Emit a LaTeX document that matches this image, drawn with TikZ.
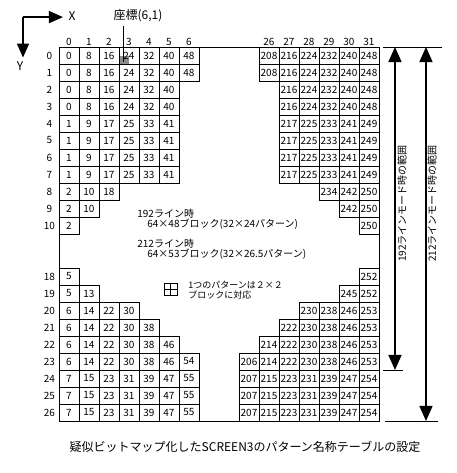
\documentclass[tikz,border=0pt]{standalone}
\usepackage{fontspec}
\setmainfont{Noto Sans CJK JP}
\usetikzlibrary{arrows.meta}
\begin{document}
\begin{tikzpicture}[x=20pt,y=-17pt,line width=.8pt,font=\fontsize{10}{12}\selectfont,
 num/.style={inner sep=0pt},
 bigarrow/.style={line width=1.6pt,-{Triangle[length=14pt,width=12pt]}},
 dimarrow/.style={line width=1.6pt,{Triangle[length=15pt,width=13pt]}-{Triangle[length=15pt,width=13pt]}},
 note/.style={anchor=west,inner sep=0pt,font=\fontsize{10}{11}\selectfont},
 small/.style={anchor=west,inner sep=0pt,font=\fontsize{9}{10}\selectfont}]
\useasboundingbox (-2.95,-2.765) rectangle (19.9,25.06);
\coordinate (o) at (-1.8,-1.76);
\coordinate (xend) at (.2,-1.76);
\coordinate (yend) at (-1.8,.62);
\draw[bigarrow] (o) -- (xend);
\draw[bigarrow] (o) -- (yend);
\node[font=\fontsize{12}{14}\selectfont] (xlbl) at (.65,-1.82) {X};
\node[font=\fontsize{12}{14}\selectfont] (ylbl) at (-1.95,1.12) {Y};
\draw (0,0) rectangle (16,22);
\foreach \i/\lab in {0/0,1/1,2/2,3/3,4/4,5/5,6/6,10/26,11/27,12/28,13/29,14/30,15/31}
 \node (ch-\i) at (\i+.5,-.32) {\lab};
\foreach \j/\lab in {0/0,1/1,2/2,3/3,4/4,5/5,6/6,7/7,8/8,9/9,10/10,13/18,14/19,15/20,16/21,17/22,18/23,19/24,20/25,21/26}
 \node (rl-\j) at (-.48,\j+.5) {\lab};
\fill[black!45] (3.05,.5) rectangle (3.5,.98);
\foreach \j/\vals in {0/{0,8,16,24,32,40,48},1/{0,8,16,24,32,40,48},2/{0,8,16,24,32,40},3/{0,8,16,24,32,40},
 4/{1,9,17,25,33,41},5/{1,9,17,25,33,41},6/{1,9,17,25,33,41},7/{1,9,17,25,33,41},8/{2,10,18},9/{2,10},10/{2},
 13/{5},14/{5,13},15/{6,14,22,30},16/{6,14,22,30,38},17/{6,14,22,30,38,46},18/{6,14,22,30,38,46,54},
 19/{7,15,23,31,39,47,55},20/{7,15,23,31,39,47,55},21/{7,15,23,31,39,47,55}}{
 \foreach \v [count=\i from 0] in \vals {
  \draw (\i,\j) rectangle ++(1,1);
  \node[num] (l-\j-\i) at (\i+.5,\j+.5) {\v};
 }
}
\foreach \j/\s/\vals in {0/10/{208,216,224,232,240,248},1/10/{208,216,224,232,240,248},
 2/11/{216,224,232,240,248},3/11/{216,224,232,240,248},4/11/{217,225,233,241,249},5/11/{217,225,233,241,249},
 6/11/{217,225,233,241,249},7/11/{217,225,233,241,249},8/13/{234,242,250},9/14/{242,250},10/15/{250},
 13/15/{252},14/14/{245,252},15/12/{230,238,246,253},16/11/{222,230,238,246,253},17/10/{214,222,230,238,246,253},
 18/9/{206,214,222,230,238,246,253},19/9/{207,215,223,231,239,247,254},20/9/{207,215,223,231,239,247,254},
 21/9/{207,215,223,231,239,247,254}}{
 \foreach \v [count=\k from 0] in \vals {
  \draw (\s+\k,\j) rectangle ++(1,1);
  \node[num] (r-\j-\k) at (\s+\k+.5,\j+.5) {\v};
 }
}
\node[font=\fontsize{12}{14}\selectfont] (coordlbl) at (3.95,-1.82) {座標(6,1)};
\coordinate (mk) at (3.2,.88);
\draw (mk) -- (mk |- coordlbl.south);
\node[note] (t192) at (3.9,9.8) {192ライン時};
\node[note] (b192) at (4.4,10.45) {64×48ブロック(32×24パターン)};
\node[note] (t212) at (3.9,11.55) {212ライン時};
\node[note] (b212) at (4.4,12.2) {64×53ブロック(32×26.5パターン)};
\draw (5.25,13.9) rectangle (5.9,14.6) (5.575,13.9) -- (5.575,14.6) (5.25,14.25) -- (5.9,14.25);
\node[small] (pat1) at (6.45,14.02) {1つのパターンは２×２};
\node[small] (pat2) at (6.45,14.58) {ブロックに対応};
\coordinate (a1t) at (16.8,0);
\coordinate (a1b) at (16.8,19);
\coordinate (a2t) at (18.35,0);
\coordinate (a2b) at (18.35,22);
\draw (16.2,0) -- (19.15,0) (16.2,19) -- (17.2,19) (16.3,22) -- (18.95,22);
\draw[dimarrow] (a1t) -- (a1b);
\draw[dimarrow] (a2t) -- (a2b);
\node[rotate=90] (r192) at (17.15,9.2) {192ラインモード時の範囲};
\node[rotate=90] (r212) at (18.65,9.2) {212ラインモード時の範囲};
\node[font=\fontsize{12}{14}\selectfont] (caption) at (9.3,23.53) {疑似ビットマップ化したSCREEN3のパターン名称テーブルの設定};
\end{tikzpicture}
\end{document}
